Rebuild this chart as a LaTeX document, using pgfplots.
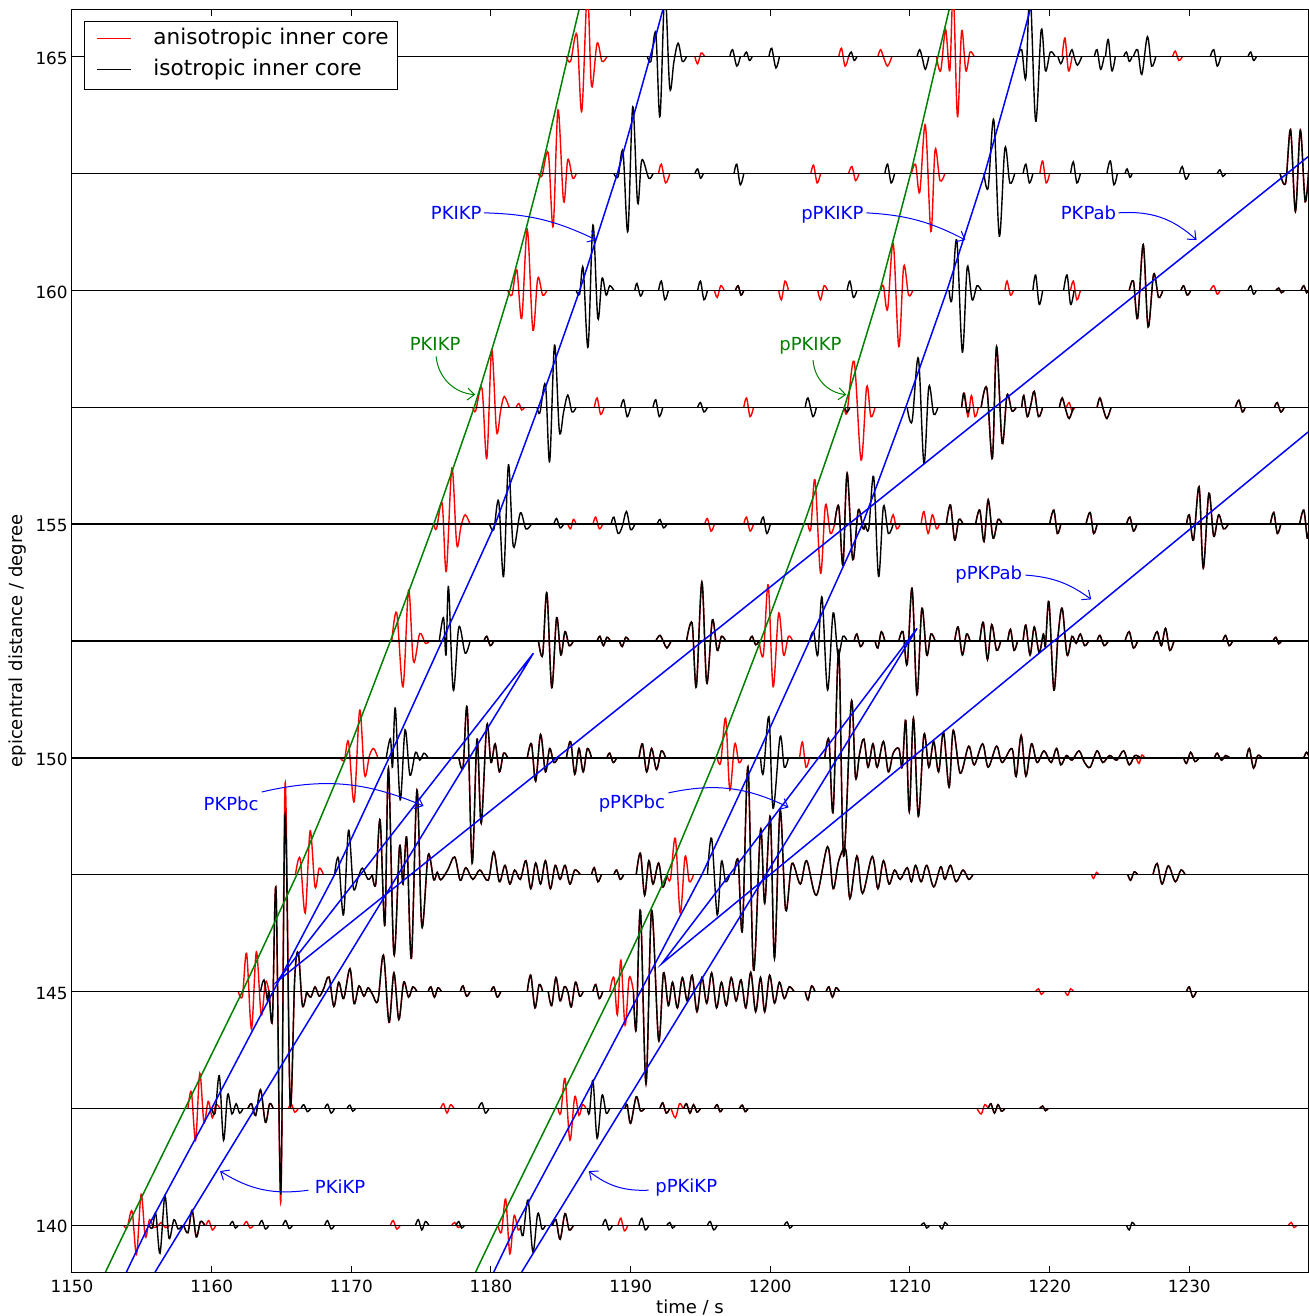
\documentclass[border=0pt]{standalone}
\usepackage{fontspec}
\setmainfont{DejaVu Sans}
\usepackage{pgfplots}
\usepackage{pgfplotstable}
\pgfplotsset{compat=1.18}
\usetikzlibrary{calc,arrows.meta}
\definecolor{mgreen}{rgb}{0,0.5,0}
\pgfplotsset{
 trR/.style={red, line width=0.7pt, smooth, tension=0.55},
 trK/.style={black, line width=0.7pt, smooth, tension=0.55},
}
\newcommand\tr[3]{\addplot[#1] table[row sep=\\, x index=0, y expr=\thisrowno{1}+#2]{#3};}
\newcommand\trc[3]{\addplot[#1] table[x index=0, y expr=\thisrowno{1}+#2]{#3};}
\newcommand\base[2]{\addplot[#1, line width=0.7pt] coordinates {(1150,#2) (1238.5,#2)};}
\newcommand\fA{\fontsize{9}{11}\selectfont}
\newcommand\fT{\fontsize{8.4}{10}\selectfont}
\newcommand\fL{\fontsize{10.8}{13}\selectfont}

% common (identical in both models) parts of each trace: time, deflection; nan separates wavelets
\pgfplotstableread[row sep=\\]{
1158.0 0\\1158.3 -0.16\\1158.6 0.32\\1158.9 -0.25\\1159.2 0.08\\1159.5 0\\nan nan\\1184.4 0\\1184.65 0.12\\1184.95 -0.3\\1185.3 0.25\\1185.6 -0.1\\1185.9 0\\
}\cmA
\pgfplotstableread[row sep=\\]{
1162.6 0\\1162.85 0.1\\1163.15 -0.15\\1163.5 0.4\\1163.85 -0.3\\1164.15 0.1\\1164.4 0\\nan nan\\1189.6 0\\1189.75 0.08\\1190.0 -0.32\\1190.4 0.25\\1190.7 -0.05\\1191.0 0\\nan nan\\1192.1 0\\1192.3 0.12\\1192.55 -0.1\\1192.8 0\\nan nan\\1193.8 0\\1194.0 0.1\\1194.25 -0.1\\1194.5 0.08\\1194.75 -0.08\\1195.0 0\\nan nan\\1196.0 0\\1196.2 0.08\\1196.4 -0.07\\1196.6 0\\nan nan\\1197.8 0\\1198.0 0.07\\1198.2 -0.07\\1198.4 0\\nan nan\\1215.6 0\\1215.8 0.1\\1216.05 -0.1\\1216.3 0.08\\1216.55 -0.06\\1216.8 0\\nan nan\\1219.3 0\\1219.5 0.05\\1219.7 -0.05\\1219.9 0\\
}\cmB
\pgfplotstableread[row sep=\\]{
1166.8 0\\1167.1 -0.12\\1167.4 0.1\\1167.7 -0.1\\1168.0 0.05\\1168.4 0.31\\1168.75 -0.32\\1169.1 0.2\\1169.45 -0.15\\1169.9 0.49\\1170.2 -0.26\\1170.55 0.12\\1170.9 -0.1\\1171.2 0.08\\1171.5 -0.05\\1171.9 -0.2\\1172.3 0.78\\1172.7 -0.66\\1173.05 0.4\\1173.4 -0.6\\1173.75 0.2\\1174.1 -0.12\\1174.4 0.1\\1174.7 0\\nan nan\\1175.5 0\\1175.7 0.1\\1175.95 -0.12\\1176.2 0.08\\1176.45 0\\nan nan\\1177.8 0\\1178.0 0.12\\1178.25 -0.1\\1178.5 0\\nan nan\\1180.0 0\\1180.2 0.1\\1180.45 -0.12\\1180.7 0\\nan nan\\1182.6 0\\1182.85 0.35\\1183.15 -0.35\\1183.45 0.15\\1183.7 0\\nan nan\\1184.1 0\\1184.35 -0.3\\1184.65 0.3\\1184.95 -0.2\\1185.25 0.1\\1185.5 0\\1185.75 -0.33\\1186.05 0.2\\1186.35 -0.1\\1186.6 0\\nan nan\\1187.3 0\\1187.5 0.15\\1187.75 -0.15\\1188.0 0\\nan nan\\1190.2 0\\1190.4 -0.8\\1190.7 1.74\\1191.1 -1.97\\1191.5 1.74\\1192.0 -1.04\\1192.35 0.4\\1192.7 -0.3\\1193.0 0.2\\1193.35 -0.35\\1193.7 0.3\\1194.05 -0.2\\1194.4 0.35\\1194.75 -0.43\\1195.1 0.3\\1195.45 -0.25\\1195.8 0.4\\1196.15 -0.35\\1196.5 0.2\\1196.85 -0.3\\1197.2 0.3\\1197.55 -0.2\\1197.9 0.25\\1198.25 -0.35\\1198.6 0.41\\1198.95 -0.43\\1199.3 0.3\\1199.6 -0.43\\1199.95 0.35\\1200.3 -0.25\\1200.65 0.2\\1201.0 -0.15\\1201.35 0.1\\1201.7 0\\nan nan\\1202.5 0\\1202.7 -0.18\\1202.95 0.12\\1203.2 0\\nan nan\\1204.0 0\\1204.2 0.1\\1204.45 -0.12\\1204.7 0.08\\1204.95 0\\nan nan\\1229.8 0\\1230.0 0.1\\1230.25 -0.12\\1230.5 0\\
}\cmC
\pgfplotstableread[row sep=\\]{
1171.5 0\\1171.75 -0.2\\1172.06 1.17\\1172.4 -1.08\\1172.66 2.28\\1173.05 -1.7\\1173.45 0.6\\1173.7 -0.2\\1173.97 0.78\\1174.3 -1.79\\1174.7 1.81\\1175.05 -1.11\\1175.5 0.42\\1175.9 -0.11\\1176.15 0.05\\1176.4 -0.11\\1176.9 0.1\\1177.4 0.38\\1177.8 -0.12\\1178.2 0.15\\1178.7 -0.1\\1179.2 0.1\\1179.8 -0.12\\1180.2 0.49\\1180.6 -0.15\\1181.0 0.2\\1181.35 -0.2\\1181.7 0.1\\1182.1 -0.1\\1182.5 0.3\\1182.85 -0.3\\1183.2 0.25\\1183.55 -0.2\\1183.9 0.3\\1184.25 -0.3\\1184.6 0.2\\1184.95 -0.1\\1185.3 0.2\\1185.65 -0.2\\1186.0 0.1\\1186.4 0\\nan nan\\1187.2 0\\1187.4 0.15\\1187.65 -0.15\\1187.9 0\\nan nan\\1188.8 0\\1189.0 0.1\\1189.25 -0.1\\1189.5 0\\nan nan\\1190.4 0\\1190.7 0.46\\1191.0 -0.44\\1191.3 0.3\\1191.6 -0.2\\1192.0 0.25\\1192.3 -0.26\\1192.6 0\\nan nan\\1197.4 0\\1197.7 0.3\\1198.0 -1.19\\1198.4 2.31\\1198.8 -2.04\\1199.3 0.96\\1199.6 -0.61\\1200.0 1.24\\1200.3 -1.79\\1200.7 1.38\\1201.1 -0.76\\1201.55 0.24\\1202.15 -0.2\\1202.6 0.3\\1203.3 -0.44\\1204.1 0.6\\1204.5 -0.3\\1204.9 0.3\\1205.4 0.53\\1205.7 -0.51\\1206.2 0.4\\1206.6 -0.4\\1207.3 0.39\\1207.7 -0.3\\1208.1 0.3\\1208.5 -0.2\\1208.9 0.1\\1209.3 -0.1\\1209.8 0.15\\1210.1 -0.15\\1210.4 0.2\\1210.8 -0.15\\1211.2 0.2\\1211.7 -0.26\\1212.2 0.17\\1212.5 -0.1\\1212.9 0.2\\1213.3 -0.15\\1213.8 0.1\\1214.2 -0.1\\1214.5 0\\nan nan\\1225.6 0\\1225.8 -0.12\\1226.05 0.06\\1226.3 0\\nan nan\\1227.4 0\\1227.7 0.24\\1228.05 -0.2\\1228.5 0.19\\1229.0 -0.15\\1229.4 0.1\\1229.7 0\\
}\cmD
\pgfplotstableread[row sep=\\]{
1177.7 0\\1178.0 -0.2\\1178.3 1.06\\1178.65 -2.25\\1179.0 0.4\\1179.3 -1.4\\1179.7 0.7\\1180.0 -0.1\\1180.3 0.3\\1180.6 -0.3\\1180.9 0.1\\1181.2 0\\nan nan\\1182.6 0\\1182.9 0.3\\1183.2 -0.5\\1183.55 0.5\\1183.9 -0.3\\1184.2 0.2\\1184.5 -0.1\\1184.8 0\\nan nan\\1185.4 0\\1185.7 0.35\\1186.0 -0.35\\1186.3 0.2\\1186.6 -0.3\\1186.9 0.2\\1187.2 0\\nan nan\\1188.3 0\\1188.5 0.1\\1188.75 -0.1\\1189.0 0\\nan nan\\1190.6 0\\1190.85 0.3\\1191.15 -0.3\\1191.5 0.2\\1191.85 -0.25\\1192.2 0.15\\1192.5 0\\nan nan\\1203.9 0\\1204.2 0.38\\1204.5 -1.14\\1204.9 2.3\\1205.25 -2.1\\1205.8 1.2\\1206.1 -0.42\\1206.4 0.1\\1206.7 0.4\\1207.0 -0.2\\1207.35 0.3\\1207.65 -0.2\\1208.1 0.35\\1208.45 -0.3\\1208.8 0.1\\1209.2 0.2\\1209.45 -0.2\\1209.7 0.8\\1209.95 -1.15\\1210.25 0.85\\1210.6 -1.25\\1211.0 0.5\\1211.35 -0.2\\1211.7 0.35\\1212.05 -0.3\\1212.4 0.55\\1212.8 -0.63\\1213.1 0.59\\1213.6 -0.33\\1214.2 0.25\\1214.6 -0.15\\1215.2 0.3\\1215.6 -0.2\\1216.2 0.25\\1216.6 -0.1\\1217.3 0.2\\1217.6 -0.4\\1217.96 0.48\\1218.3 -0.39\\1218.7 0.3\\1219.1 -0.1\\1219.6 0.15\\1220.1 -0.1\\1220.5 0.2\\1220.8 -0.15\\1221.2 0.05\\1221.6 -0.05\\1222.1 0.15\\1222.5 -0.1\\1222.9 -0.2\\1223.4 0.15\\1223.8 -0.1\\1224.3 0.05\\1224.8 -0.05\\1225.3 0.15\\1225.7 -0.15\\1226.1 0.05\\1226.5 0\\nan nan\\1229.6 0\\1229.8 -0.12\\1230.1 0.12\\1230.4 -0.08\\1230.7 0\\nan nan\\1231.8 0\\1232.0 0.1\\1232.3 -0.05\\1232.6 0.05\\1232.9 0\\nan nan\\1234.1 0\\1234.3 0.2\\1234.6 -0.22\\1234.9 0.05\\1235.2 0\\nan nan\\1238.2 0\\1238.4 0.12\\1238.6 0\\
}\cmE
\pgfplotstableread[row sep=\\]{
1179.5 0\\1179.7 0.1\\1179.95 -0.1\\1180.2 0\\nan nan\\1183.4 0\\1183.7 -0.3\\1184.0 1.03\\1184.35 -1.0\\1184.7 0.5\\1185.0 -0.3\\1185.3 0.2\\1185.6 -0.1\\1185.9 0\\nan nan\\1187.6 0\\1187.8 0.1\\1188.05 -0.1\\1188.3 0.08\\1188.55 0\\nan nan\\1189.2 0\\1189.4 -0.12\\1189.65 0.08\\1189.9 0\\nan nan\\1191.8 0\\1192.1 0.12\\1192.4 -0.05\\1192.6 -0.15\\1192.9 0\\nan nan\\1194.0 0\\1194.4 0.38\\1194.7 -0.98\\1195.1 1.26\\1195.45 -0.9\\1195.85 0.45\\1196.2 -0.2\\1196.5 0.1\\1196.8 0\\nan nan\\1198.5 0\\1198.7 0.1\\1198.95 -0.08\\1199.2 0\\nan nan\\1206.0 0\\1206.2 0.15\\1206.45 -0.12\\1206.7 0\\nan nan\\1207.5 0\\1207.7 -0.15\\1207.95 0.2\\1208.2 0\\nan nan\\1209.2 0\\1209.5 0.2\\1209.8 -0.5\\1210.15 1.13\\1210.5 -1.15\\1210.85 0.7\\1211.2 -0.3\\1211.5 0.15\\1211.8 0\\nan nan\\1213.2 0\\1213.45 0.3\\1213.75 -0.3\\1214.05 0.15\\1214.3 0\\nan nan\\1215.0 0\\1215.25 0.4\\1215.55 -0.4\\1215.85 0.35\\1216.2 -0.2\\1216.5 0\\nan nan\\1217.0 0\\1217.2 0.25\\1217.45 -0.2\\1217.7 0\\nan nan\\1218.1 0\\1218.3 0.34\\1218.6 -0.3\\1218.9 0.3\\1219.25 -0.25\\1219.55 0.15\\1219.7 -0.1\\1219.95 0.84\\1220.3 -1.05\\1220.6 0.1\\1220.9 0.7\\1221.25 -0.3\\1221.6 0.1\\1221.9 -0.05\\1222.2 0.15\\1222.5 -0.1\\1222.8 0\\nan nan\\1223.4 0\\1223.6 0.12\\1223.9 -0.1\\1224.2 0\\nan nan\\1225.4 0\\1225.7 0.2\\1226.0 -0.15\\1226.3 0\\nan nan\\1227.4 0\\1227.7 0.2\\1228.0 -0.1\\1228.3 0.27\\1228.6 -0.2\\1228.9 0\\nan nan\\1232.4 0\\1232.6 0.12\\1232.85 -0.1\\1233.1 0\\nan nan\\1236.0 0\\1236.2 0.08\\1236.4 -0.06\\1236.6 0\\
}\cmF
\pgfplotstableread[row sep=\\]{
1204.6 0\\1204.9 0.38\\1205.2 -0.87\\1205.5 1.09\\1205.9 -0.76\\1206.3 0.3\\1206.65 -0.1\\1206.8 0\\nan nan\\1212.6 0\\1212.9 0.41\\1213.2 -0.34\\1213.5 0.1\\1213.8 0\\nan nan\\1214.7 0\\1215.0 0.3\\1215.3 -0.37\\1215.6 0.52\\1215.95 -0.3\\1216.3 0.1\\1216.6 0\\nan nan\\1220.0 0\\1220.3 0.3\\1220.55 -0.2\\1220.8 0\\nan nan\\1222.6 0\\1222.9 0.25\\1223.15 -0.2\\1223.4 0\\nan nan\\1225.5 0\\1225.75 0.15\\1226.0 -0.15\\1226.25 0\\nan nan\\1229.8 0\\1230.0 0.2\\1230.3 -0.34\\1230.7 0.8\\1231.0 -0.94\\1231.4 0.66\\1231.75 -0.26\\1232.1 0.2\\1232.45 -0.1\\1232.8 0\\nan nan\\1235.8 0\\1236.05 0.25\\1236.3 -0.2\\1236.55 0\\nan nan\\1237.9 0\\1238.2 0.3\\1238.45 -0.3\\1238.6 0\\
}\cmG
\pgfplotstableread[row sep=\\]{
1215.1 0\\1215.5 0.41\\1215.9 -1.09\\1216.2 1.3\\1216.6 -0.77\\1216.95 0.26\\1217.3 -0.08\\1217.6 0\\nan nan\\1218.0 0\\1218.15 0.25\\1218.4 -0.2\\1218.65 0.05\\1218.9 0.34\\1219.2 -0.2\\1219.5 0\\nan nan\\1220.7 0\\1220.9 0.2\\1221.15 -0.05\\1221.4 -0.24\\1221.7 0\\nan nan\\1223.4 0\\1223.6 0.2\\1223.85 -0.05\\1224.1 -0.24\\1224.4 0\\nan nan\\1233.3 0\\1233.55 0.15\\1233.8 -0.1\\1234.0 0\\nan nan\\1236.1 0\\1236.3 0.1\\1236.55 -0.1\\1236.8 0\\
}\cmH
\pgfplotstableread[row sep=\\]{
1197.5 0\\1197.7 0.1\\1197.9 -0.1\\1198.1 0\\nan nan\\1225.7 0\\1226.0 0.2\\1226.3 -0.6\\1226.7 0.98\\1227.05 -0.78\\1227.45 0.35\\1227.8 -0.15\\1228.1 0\\nan nan\\1229.4 0\\1229.6 0.1\\1229.85 -0.1\\1230.1 0\\nan nan\\1236.2 0\\1236.4 0.05\\1236.6 -0.05\\1236.8 0\\nan nan\\1238.0 0\\1238.2 0.1\\1238.4 -0.05\\1238.5 0\\
}\cmI
\pgfplotstableread[row sep=\\]{
1236.5 0\\1236.9 -0.2\\1237.25 0.94\\1237.6 -0.81\\1237.95 0.93\\1238.3 -0.6\\1238.6 0.3\\
}\cmJ

\begin{document}
\begin{tikzpicture}
\begin{axis}[
 scale only axis, width=618pt, height=631pt,
 xmin=1150, xmax=1238.5, ymin=139, ymax=166,
 xtick={1150,1160,...,1230}, ytick={140,145,...,165},
 tick align=inside, major tick length=3pt,
 axis line style={line width=0.5pt},
 every tick/.style={black, line width=0.5pt},
 /pgf/number format/assume math mode=true,
 /pgf/number format/1000 sep={},
 xticklabel style={font=\fT, anchor=base, inner sep=0pt, yshift=-10.3pt},
 yticklabel style={font=\fT, anchor=east, inner sep=0pt, xshift=-2pt, yshift=-0.8pt},
 unbounded coords=jump,
 clip=true,
]
\coordinate (SW) at (rel axis cs:0,0);
\coordinate (NE) at (rel axis cs:1,1);
% ===================== RED (anisotropic) =====================
\base{red}{140}\base{red}{142.5}\base{red}{145}\base{red}{147.5}\base{red}{150}\base{red}{152.5}
\base{red}{155}\base{red}{157.5}\base{red}{160}\base{red}{162.5}\base{red}{165}
\tr{trR}{140}{1153.7 0\\1153.95 -0.05\\1154.3 0.3\\1154.62 -0.62\\1154.95 0.66\\1155.25 -0.25\\1155.55 0.12\\1155.85 -0.05\\1156.2 0\\1156.4 0.06\\1156.7 -0.05\\1157.0 0\\nan nan\\1159.6 0\\1159.8 0.1\\1160.05 -0.1\\1160.3 0\\nan nan\\1162.3 0\\1162.5 0.08\\1162.75 -0.06\\1163.0 0\\nan nan\\1172.8 0\\1173.0 0.1\\1173.25 -0.08\\1173.5 0\\nan nan\\1177.2 0\\1177.4 0.06\\1177.65 -0.05\\1177.9 0\\nan nan\\1180.5 0\\1180.75 -0.15\\1181.05 0.56\\1181.35 -0.61\\1181.65 0.2\\1181.95 -0.1\\1182.2 0\\nan nan\\1189.1 0\\1189.3 0.15\\1189.55 -0.12\\1189.8 0\\nan nan\\1237.1 0\\1237.3 0.06\\1237.5 -0.05\\1237.7 0\\}
\trc{trR}{140}{\cmA}
\tr{trR}{142.5}{1158.3 0\\1158.55 0.35\\1158.85 -0.68\\1159.15 0.75\\1159.45 -0.3\\1159.75 0.15\\1160.05 -0.2\\1160.3 0.08\\1160.6 0\\nan nan\\1165.5 0\\1165.7 0.1\\1165.95 -0.08\\1166.2 0\\nan nan\\1176.4 0\\1176.6 0.1\\1176.85 -0.1\\1177.1 0.08\\1177.35 0\\nan nan\\1184.8 0\\1185.0 -0.1\\1185.3 0.64\\1185.65 -0.68\\1186.0 0.25\\1186.3 -0.15\\1186.55 0.08\\1186.8 0\\nan nan\\1192.9 0\\1193.2 -0.2\\1193.5 0.1\\1193.75 0\\nan nan\\1214.8 0\\1215.1 -0.12\\1215.35 0.08\\1215.6 0\\}
\trc{trR}{142.5}{\cmB}
\tr{trR}{145}{1161.9 0\\1162.2 -0.1\\1162.5 0.82\\1162.85 -0.8\\1163.2 0.85\\1163.55 -0.5\\1163.85 0.2\\1164.1 0\\1164.35 -0.6\\1164.61 2.17\\1164.95 -4.5\\1165.26 4.46\\1165.62 -2.4\\1165.95 0.3\\1166.21 0.82\\1166.5 -0.3\\1166.8 0\\nan nan\\1188.5 0\\1188.8 0.3\\1189.05 -0.5\\1189.3 0.67\\1189.6 -0.72\\1189.9 0.3\\1190.2 0\\nan nan\\1219.0 0\\1219.2 0.06\\1219.4 -0.06\\1219.6 0\\nan nan\\1221.1 0\\1221.3 -0.08\\1221.5 0.06\\1221.7 0\\}
\trc{trR}{145}{\cmC}
\tr{trR}{147.5}{1166.0 0\\1166.33 0.35\\1166.7 -0.82\\1167.05 0.94\\1167.4 -0.26\\1167.7 0.14\\1168.0 0\\nan nan\\1192.6 0\\1192.85 -0.1\\1193.2 0.78\\1193.55 -0.82\\1193.9 0.39\\1194.2 -0.15\\1194.5 0\\nan nan\\1223.0 0\\1223.15 -0.08\\1223.35 0.05\\1223.5 0\\}
\trc{trR}{147.5}{\cmD}
\tr{trR}{150}{1169.2 0\\1169.5 -0.05\\1169.8 0.34\\1170.2 -0.94\\1170.6 1.02\\1170.95 -0.37\\1171.3 0.05\\1171.6 0.2\\1171.9 0\\nan nan\\1196.2 0\\1196.45 -0.1\\1196.8 0.85\\1197.1 -0.69\\1197.45 0.3\\1197.75 -0.1\\1198.0 0\\nan nan\\1202.1 0\\1202.3 0.34\\1202.55 -0.2\\1202.8 0\\nan nan\\1226.2 0\\1226.4 -0.12\\1226.6 0.06\\1226.8 0\\}
\trc{trR}{150}{\cmE}
\tr{trR}{152.5}{1172.9 0\\1173.25 0.6\\1173.7 -0.98\\1174.1 1.09\\1174.45 -0.44\\1174.9 0.16\\1175.3 -0.05\\1175.6 0\\nan nan\\1199.2 0\\1199.5 -0.3\\1199.85 1.2\\1200.2 -0.98\\1200.6 0.6\\1200.95 -0.3\\1201.3 0.1\\1201.6 0\\}
\trc{trR}{152.5}{\cmF}
\tr{trR}{155}{1175.9 0\\1176.1 -0.1\\1176.5 0.45\\1176.8 -1.01\\1177.2 1.2\\1177.55 -0.44\\1177.85 -0.05\\1178.15 0.2\\1178.5 0\\nan nan\\1185.5 0\\1185.7 -0.1\\1185.9 0.1\\1186.1 0\\nan nan\\1187.3 0\\1187.5 0.15\\1187.75 -0.1\\1188.0 0\\nan nan\\1195.3 0\\1195.5 0.12\\1195.75 -0.15\\1196.0 0\\nan nan\\1198.1 0\\1198.3 0.15\\1198.55 -0.15\\1198.8 0\\nan nan\\1202.7 0\\1202.9 -0.1\\1203.2 0.95\\1203.6 -1.05\\1203.95 0.41\\1204.3 -0.2\\1204.6 0\\nan nan\\1208.6 0\\1208.8 0.2\\1209.05 -0.1\\1209.3 0\\nan nan\\1210.8 0\\1211.0 0.27\\1211.3 -0.2\\1211.6 0.2\\1211.9 -0.1\\1212.1 0\\}
\trc{trR}{155}{\cmG}
\tr{trR}{157.5}{1178.7 0\\1178.9 -0.08\\1179.35 0.41\\1179.7 -1.09\\1180.05 1.23\\1180.4 -0.52\\1180.7 -0.05\\1180.95 0.23\\1181.3 0\\nan nan\\1181.8 0\\1182.0 0.08\\1182.2 -0.06\\1182.4 0\\nan nan\\1187.4 0\\1187.6 0.2\\1187.85 -0.15\\1188.1 0\\nan nan\\1198.1 0\\1198.3 0.2\\1198.55 -0.2\\1198.8 0\\nan nan\\1205.3 0\\1205.5 -0.1\\1206.0 0.98\\1206.5 -1.13\\1206.9 0.44\\1207.2 -0.2\\1207.5 0\\nan nan\\1213.7 0\\1213.9 0.3\\1214.15 -0.2\\1214.4 0.25\\1214.65 -0.2\\1214.9 0\\nan nan\\1221.2 0\\1221.4 0.1\\1221.6 -0.08\\1221.8 0\\}
\trc{trR}{157.5}{\cmH}
\tr{trR}{160}{1181.2 0\\1181.5 -0.1\\1181.85 0.44\\1182.2 -0.6\\1182.6 1.3\\1183.0 -0.85\\1183.35 0.26\\1183.7 -0.1\\1184.0 0\\nan nan\\1196.0 0\\1196.2 -0.15\\1196.45 0.1\\1196.7 0\\nan nan\\1200.6 0\\1200.8 -0.2\\1201.05 0.2\\1201.3 0\\nan nan\\1203.4 0\\1203.6 -0.2\\1203.85 0.1\\1204.1 0\\nan nan\\1207.9 0\\1208.1 0.1\\1208.4 -0.4\\1208.8 1.01\\1209.2 -1.2\\1209.55 0.51\\1209.9 -0.1\\1210.2 0\\nan nan\\1216.8 0\\1216.95 0.2\\1217.2 -0.1\\1217.4 0\\nan nan\\1221.5 0\\1221.7 0.2\\1221.95 -0.2\\1222.2 0\\nan nan\\1231.5 0\\1231.75 0.1\\1232.0 -0.08\\1232.2 0\\}
\trc{trR}{160}{\cmI}
\tr{trR}{162.5}{1183.4 0\\1183.65 -0.05\\1184.1 0.44\\1184.45 -1.13\\1184.8 1.36\\1185.2 -0.6\\1185.5 0.3\\1185.85 -0.1\\1186.1 0\\nan nan\\1192.0 0\\1192.2 0.2\\1192.5 -0.2\\1192.8 0\\nan nan\\1202.9 0\\1203.1 0.18\\1203.35 -0.2\\1203.6 0\\nan nan\\1205.6 0\\1205.85 0.15\\1206.1 -0.15\\1206.35 0\\nan nan\\1210.1 0\\1210.4 0.2\\1210.7 -0.4\\1211.1 1.04\\1211.5 -1.24\\1211.8 0.51\\1212.15 -0.15\\1212.5 0\\nan nan\\1219.3 0\\1219.5 0.27\\1219.75 -0.2\\1220.0 0\\}
\trc{trR}{162.5}{\cmJ}
\tr{trR}{165}{1185.4 0\\1185.7 -0.1\\1186.15 0.47\\1186.5 -1.17\\1186.9 1.4\\1187.2 -0.63\\1187.6 0.29\\1187.95 -0.1\\1188.3 0\\nan nan\\1194.6 0\\1194.8 -0.15\\1195.05 0.08\\1195.3 0\\nan nan\\1204.9 0\\1205.1 0.18\\1205.35 -0.2\\1205.6 0\\nan nan\\1207.7 0\\1207.9 0.15\\1208.15 -0.05\\1208.4 -0.2\\1208.7 0\\nan nan\\1211.9 0\\1212.2 -0.3\\1212.55 0.58\\1212.85 -0.3\\1213.1 1.4\\1213.4 -1.28\\1213.7 0.55\\1214.0 -0.3\\1214.3 0.1\\1214.6 0\\nan nan\\1220.9 0\\1221.1 0.4\\1221.35 -0.3\\1221.6 0\\nan nan\\1228.8 0\\1229.0 0.12\\1229.25 -0.08\\1229.5 0\\}
% ===================== BLACK (isotropic) =====================
\base{black}{140}\base{black}{142.5}\base{black}{145}\base{black}{147.5}\base{black}{150}\base{black}{152.5}
\base{black}{155}\base{black}{157.5}\base{black}{160}\base{black}{162.5}\base{black}{165}
\tr{trK}{140}{1155.5 0\\1155.75 -0.06\\1156.0 0.25\\1156.3 -0.6\\1156.65 0.63\\1156.95 -0.28\\1157.3 0.12\\1157.6 -0.08\\1157.9 0\\nan nan\\1161.3 0\\1161.5 0.08\\1161.7 -0.06\\1161.9 0\\nan nan\\1163.4 0\\1163.6 0.1\\1163.85 -0.08\\1164.1 0\\nan nan\\1165.1 0\\1165.3 0.1\\1165.55 -0.07\\1165.8 0\\nan nan\\1168.1 0\\1168.3 0.1\\1168.55 -0.08\\1168.8 0\\nan nan\\1174.6 0\\1174.8 0.12\\1175.05 -0.1\\1175.3 0.08\\1175.55 0\\nan nan\\1177.5 0\\1177.7 0.08\\1177.9 -0.06\\1178.1 0\\nan nan\\1182.1 0\\1182.3 -0.22\\1182.65 0.54\\1183.0 -0.57\\1183.35 0.25\\1183.65 -0.08\\1183.9 0\\nan nan\\1188.0 0\\1188.2 0.12\\1188.45 -0.1\\1188.7 0\\nan nan\\1190.6 0\\1190.8 0.15\\1191.05 -0.1\\1191.3 0\\nan nan\\1192.6 0\\1192.8 0.06\\1193.0 -0.06\\1193.2 0\\nan nan\\1195.5 0\\1195.7 0.08\\1195.95 -0.1\\1196.2 0\\nan nan\\1201.0 0\\1201.2 0.07\\1201.4 -0.06\\1201.6 0\\nan nan\\1210.8 0\\1211.0 0.05\\1211.2 -0.06\\1211.4 0\\nan nan\\1212.1 0\\1212.3 -0.08\\1212.5 0.06\\1212.7 0\\nan nan\\1225.5 0\\1225.7 -0.1\\1225.9 0.06\\1226.1 0\\}
\trc{trK}{140}{\cmA}
\tr{trK}{142.5}{1160.0 0\\1160.25 -0.1\\1160.55 0.7\\1160.85 -0.68\\1161.15 0.3\\1161.45 -0.12\\1161.75 0.1\\1162.0 -0.1\\1162.25 0\\nan nan\\1166.4 0\\1166.6 0.08\\1166.85 -0.07\\1167.1 0\\nan nan\\1168.1 0\\1168.3 0.09\\1168.55 -0.1\\1168.8 0\\nan nan\\1169.7 0\\1169.9 0.07\\1170.1 -0.06\\1170.3 0\\nan nan\\1179.1 0\\1179.35 0.12\\1179.6 -0.1\\1179.85 0\\nan nan\\1186.9 0\\1187.05 -0.1\\1187.3 0.6\\1187.6 -0.64\\1187.95 0.28\\1188.25 -0.1\\1188.5 0\\}
\trc{trK}{142.5}{\cmB}
\tr{trK}{145}{1163.5 0\\1163.75 0.25\\1164.0 -0.2\\1164.1 0\\1164.35 -0.6\\1164.61 2.17\\1164.95 -4.3\\1165.26 3.8\\1165.62 -2.4\\1165.95 0.3\\1166.21 0.82\\1166.5 -0.3\\1166.8 0\\}
\trc{trK}{145}{\cmC}
\tr{trK}{147.5}{1168.8 0\\1169.08 0.35\\1169.44 -0.86\\1169.8 0.95\\1170.15 -0.29\\1170.5 -0.05\\1170.8 0.14\\1171.2 -0.1\\1171.5 0\\nan nan\\1195.5 0\\1195.8 0.78\\1196.2 -0.86\\1196.5 0.28\\1196.8 -0.15\\1197.1 0\\}
\trc{trK}{147.5}{\cmD}
\tr{trK}{150}{1172.5 0\\1172.8 0.41\\1172.95 -0.2\\1173.15 1.06\\1173.5 -0.9\\1173.85 0.6\\1174.2 -0.37\\1174.6 0.12\\1174.9 -0.05\\1175.2 0.1\\1175.5 0\\nan nan\\1199.3 0\\1199.5 -0.33\\1199.9 0.88\\1200.2 -1.08\\1200.7 0.45\\1201.0 -0.2\\1201.3 0\\}
\trc{trK}{150}{\cmE}
\tr{trK}{152.5}{1176.3 0\\1176.6 0.5\\1176.78 -0.3\\1176.96 1.16\\1177.3 -1.05\\1177.7 0.3\\1178.15 -0.26\\1178.5 0\\nan nan\\1202.8 0\\1203.1 0.2\\1203.4 -0.3\\1203.7 0.94\\1204.1 -1.05\\1204.5 0.6\\1204.85 -0.3\\1205.2 0.1\\1205.5 0\\}
\trc{trK}{152.5}{\cmF}
\tr{trK}{155}{1179.9 0\\1180.2 -0.12\\1180.55 0.49\\1180.9 -1.12\\1181.25 1.27\\1181.6 -0.48\\1182.1 0.24\\1182.5 -0.1\\1182.9 0\\nan nan\\1184.5 0\\1184.7 0.12\\1184.95 -0.08\\1185.2 0\\nan nan\\1188.6 0\\1188.8 0.15\\1189.1 -0.2\\1189.4 -0.05\\1189.7 0.27\\1190.0 -0.12\\1190.3 0\\nan nan\\1191.9 0\\1192.1 0.1\\1192.35 -0.08\\1192.6 0\\nan nan\\1199.3 0\\1199.5 0.15\\1199.75 -0.2\\1200.0 0\\nan nan\\1206.8 0\\1207.05 -0.1\\1207.4 1.02\\1207.75 -1.12\\1208.1 0.38\\1208.45 -0.2\\1208.8 0\\}
\trc{trK}{155}{\cmG}
\tr{trK}{157.5}{1183.3 0\\1183.5 -0.12\\1183.9 0.48\\1184.2 -1.16\\1184.55 1.33\\1184.9 -0.52\\1185.2 -0.1\\1185.5 0.26\\1185.8 -0.1\\1186.1 0\\nan nan\\1189.3 0\\1189.5 0.16\\1189.75 -0.2\\1190.0 0\\nan nan\\1191.6 0\\1191.8 0.16\\1192.05 -0.2\\1192.3 0\\nan nan\\1194.8 0\\1195.0 0.1\\1195.25 -0.1\\1195.5 0\\nan nan\\1202.5 0\\1202.7 0.2\\1203.05 -0.2\\1203.3 0\\nan nan\\1205.3 0\\1205.5 -0.1\\1205.7 0\\nan nan\\1209.8 0\\1210.15 -0.3\\1210.6 1.05\\1211.0 -1.2\\1211.35 0.44\\1211.7 -0.15\\1212.0 0\\nan nan\\1213.7 0\\1213.85 0.3\\1214.1 -0.1\\1214.3 0\\}
\trc{trK}{157.5}{\cmH}
\tr{trK}{160}{1186.1 0\\1186.35 -0.08\\1186.6 0.48\\1186.95 -1.21\\1187.3 1.4\\1187.65 -0.6\\1187.95 0.26\\1188.25 -0.1\\1188.5 0.1\\1188.8 0\\nan nan\\1190.3 0\\1190.45 0.15\\1190.7 -0.12\\1190.9 0\\nan nan\\1192.0 0\\1192.2 0.2\\1192.45 -0.2\\1192.7 0\\nan nan\\1194.8 0\\1195.0 0.2\\1195.25 -0.2\\1195.5 0\\nan nan\\1205.5 0\\1205.7 0.2\\1205.95 -0.15\\1206.2 0\\nan nan\\1212.8 0\\1213.0 -0.2\\1213.35 1.08\\1213.75 -1.32\\1214.1 0.5\\1214.45 -0.2\\1214.8 0.1\\1215.1 0\\nan nan\\1218.8 0\\1219.0 0.33\\1219.25 -0.3\\1219.5 0\\nan nan\\1221.0 0\\1221.25 0.33\\1221.5 -0.3\\1221.75 0\\nan nan\\1234.2 0\\1234.4 0.1\\1234.6 -0.08\\1234.8 0\\}
\trc{trK}{160}{\cmI}
\tr{trK}{162.5}{1188.8 0\\1189.1 -0.07\\1189.45 0.47\\1189.8 -1.24\\1190.15 1.43\\1190.5 -0.63\\1190.8 0.29\\1191.3 -0.1\\1191.6 0\\nan nan\\1194.6 0\\1194.8 0.1\\1195.0 -0.1\\1195.2 0\\nan nan\\1197.4 0\\1197.6 0.2\\1197.85 -0.24\\1198.1 0\\nan nan\\1208.2 0\\1208.4 0.2\\1208.65 -0.2\\1208.9 0\\nan nan\\1215.3 0\\1215.6 -0.3\\1216.0 1.15\\1216.4 -1.34\\1216.8 0.55\\1217.15 -0.2\\1217.5 0\\nan nan\\1218.1 0\\1218.3 0.2\\1218.55 -0.2\\1218.8 0\\nan nan\\1221.5 0\\1221.7 0.25\\1221.95 -0.2\\1222.2 0\\nan nan\\1224.1 0\\1224.35 0.27\\1224.6 -0.24\\1224.85 0\\nan nan\\1225.4 0\\1225.55 0.1\\1225.75 -0.08\\1225.9 0\\nan nan\\1229.3 0\\1229.5 0.15\\1229.75 -0.12\\1230.0 0\\nan nan\\1232.0 0\\1232.2 0.08\\1232.4 -0.06\\1232.6 0\\}
\trc{trK}{162.5}{\cmJ}
\tr{trK}{165}{1191.2 0\\1191.45 -0.1\\1191.8 0.5\\1192.1 -1.28\\1192.45 1.4\\1192.8 -0.67\\1193.1 -0.1\\1193.4 0.29\\1193.7 -0.1\\1194.0 0\\nan nan\\1197.1 0\\1197.3 0.15\\1197.6 -0.2\\1197.85 0\\nan nan\\1198.1 0\\1198.3 0.1\\1198.5 -0.08\\1198.7 0\\nan nan\\1199.9 0\\1200.1 0.18\\1200.4 -0.24\\1200.65 0\\nan nan\\1205.6 0\\1205.8 0.1\\1206.0 -0.08\\1206.2 0\\nan nan\\1210.5 0\\1210.7 0.15\\1210.9 -0.05\\1211.1 -0.27\\1211.35 0\\nan nan\\1217.7 0\\1218.0 0.15\\1218.3 -0.45\\1218.6 1.4\\1219.0 -1.38\\1219.4 0.58\\1219.7 -0.3\\1220.05 0.1\\1220.4 0\\nan nan\\1220.6 0\\1220.8 -0.15\\1221.0 0\\nan nan\\1221.4 0\\1221.6 0.15\\1221.8 -0.05\\1222.0 -0.18\\1222.3 0\\nan nan\\1223.2 0\\1223.4 0.15\\1223.65 -0.27\\1223.9 0\\nan nan\\1224.0 0\\1224.2 0.37\\1224.45 -0.3\\1224.7 0\\nan nan\\1225.3 0\\1225.5 0.1\\1225.7 -0.1\\1225.9 0\\nan nan\\1226.0 0\\1226.3 0.15\\1226.6 -0.38\\1227.0 0.43\\1227.3 -0.2\\1227.6 0\\nan nan\\1231.5 0\\1231.75 0.15\\1232.0 -0.2\\1232.25 0\\nan nan\\1234.2 0\\1234.4 0.1\\1234.6 -0.08\\1234.8 0\\}
% ===================== travel-time curves =====================
\addplot[mgreen, line width=0.75pt] coordinates {(1152.4,139) (1154.0,140) (1158.1,142.5) (1162.2,145) (1166.1,147.5) (1169.6,150) (1172.8,152.5) (1175.9,155) (1178.8,157.5) (1181.35,160) (1183.55,162.5) (1185.5,165) (1186.3,166)};
\addplot[mgreen, line width=0.75pt] coordinates {(1178.9,139) (1180.5,140) (1184.6,142.5) (1188.7,145) (1192.6,147.5) (1196.1,150) (1199.3,152.5) (1202.4,155) (1205.3,157.5) (1207.85,160) (1210.05,162.5) (1212.0,165) (1212.8,166)};
\addplot[blue, line width=0.75pt] coordinates {(1153.9,139) (1155.5,140) (1160.0,142.5) (1164.4,145) (1168.8,147.5) (1172.7,150) (1176.5,152.5) (1180.3,155) (1183.4,157.5) (1186.35,160) (1189.05,162.5) (1191.4,165) (1192.3,166)};
\addplot[blue, line width=0.75pt] coordinates {(1180.2,139) (1181.8,140) (1186.3,142.5) (1190.7,145) (1195.1,147.5) (1199.0,150) (1202.8,152.5) (1206.6,155) (1209.7,157.5) (1212.65,160) (1215.35,162.5) (1217.7,165) (1218.6,166)};
\addplot[blue, line width=0.75pt] coordinates {(1155.95,139) (1183.04,152.24) (1164.66,145.21) (1238.5,162.86)};
\addplot[blue, line width=0.75pt] coordinates {(1182.2,139) (1210.51,152.77) (1192.24,145.6) (1238.5,156.97)};
% ===================== annotations =====================
\node[blue, font=\fA, anchor=base, inner sep=0pt] at (axis cs:1177.51,161.51) {PKIKP};
\node[blue, font=\fA, anchor=base, inner sep=0pt] at (axis cs:1204.44,161.51) {pPKIKP};
\node[blue, font=\fA, anchor=base, inner sep=0pt] at (axis cs:1222.78,161.51) {PKPab};
\node[mgreen, font=\fA, anchor=base, inner sep=0pt] at (axis cs:1176.0,158.71) {PKIKP};
\node[mgreen, font=\fA, anchor=base, inner sep=0pt] at (axis cs:1202.87,158.71) {pPKIKP};
\node[blue, font=\fA, anchor=base, inner sep=0pt] at (axis cs:1215.64,153.82) {pPKPab};
\node[blue, font=\fA, anchor=base, inner sep=0pt] at (axis cs:1161.39,148.88) {PKPbc};
\node[blue, font=\fA, anchor=base, inner sep=0pt] at (axis cs:1190.09,148.92) {pPKPbc};
\node[blue, font=\fA, anchor=base, inner sep=0pt] at (axis cs:1169.2,140.69) {PKiKP};
\node[blue, font=\fA, anchor=base, inner sep=0pt] at (axis cs:1193.98,140.70) {pPKiKP};
\tikzset{arr/.style={line width=0.5pt, -{Straight Barb[length=3.5pt,width=6pt]}}}
\draw[blue, arr] (axis cs:1179.51,161.66) to[bend left=12] (axis cs:1187.54,161.08);
\draw[blue, arr] (axis cs:1206.88,161.66) to[bend left=12] (axis cs:1213.97,161.08);
\draw[blue, arr] (axis cs:1224.93,161.66) to[bend left=23] (axis cs:1230.52,161.08);
\draw[mgreen, arr] (axis cs:1176.07,158.59) to[bend right=40] (axis cs:1178.87,157.77);
\draw[mgreen, arr] (axis cs:1203.06,158.51) to[bend right=40] (axis cs:1205.44,157.77);
\draw[blue, arr] (axis cs:1218.27,153.91) to[bend left=16] (axis cs:1222.98,153.39);
\draw[blue, arr] (axis cs:1163.59,149.27) to[bend left=18] (axis cs:1175.17,148.97);
\draw[blue, arr] (axis cs:1192.7,149.25) to[bend left=19] (axis cs:1201.31,148.94);
\draw[blue, arr] (axis cs:1166.93,140.75) to[bend left=20] (axis cs:1160.6,141.16);
\draw[blue, arr] (axis cs:1191.28,140.75) to[bend left=20] (axis cs:1187.0,141.16);
% ===================== legend =====================
\draw[line width=0.5pt, fill=white] (axis cs:1150.86,165.749) rectangle (axis cs:1173.28,164.294);
\draw[red, line width=0.7pt] (axis cs:1151.79,165.385) -- (axis cs:1154.23,165.385);
\draw[black, line width=0.7pt] (axis cs:1151.79,164.722) -- (axis cs:1154.23,164.722);
\node[anchor=west, inner sep=0pt, font=\fL] at (axis cs:1155.8,165.385) {anisotropic inner core};
\node[anchor=west, inner sep=0pt, font=\fL] at (axis cs:1155.8,164.722) {isotropic inner core};
\end{axis}
\node[font=\fA, anchor=base] at ($(SW)!0.5!(SW-|NE)+(0,-20.5pt)$) {time / s};
\node[font=\fA, anchor=base, rotate=90] at ($(SW)!0.5!(SW|-NE)+(-24.5pt,0)$) {epicentral distance / degree};
\pgfresetboundingbox
\path[use as bounding box] ($(SW)+(-36pt,-22pt)$) rectangle ($(NE)+(0.5pt,5pt)$);
\end{tikzpicture}
\end{document}
